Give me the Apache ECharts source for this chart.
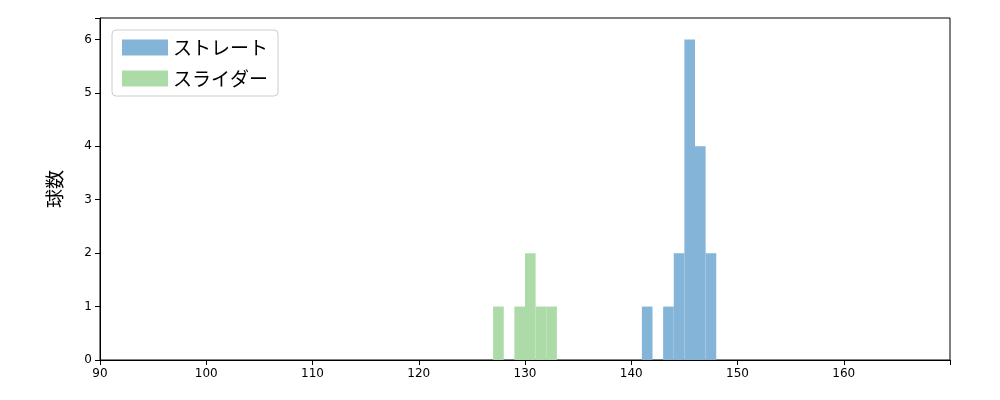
<!DOCTYPE html>
<html>
<head>
<meta charset="utf-8" />
<script src="https://cdn.jsdelivr.net/npm/echarts@6/dist/echarts.min.js"></script>
</head>
<body style="margin:0">
<div id="main" style="width:1000px;height:400px;"></div>
<script>
// histogram bins (left edge, width 1) and counts
var straightBins = [141, 143, 144, 145, 146, 147];
var straightCounts = [1, 1, 2, 6, 4, 2];
var sliderBins = [127, 129, 130, 131, 132];
var sliderCounts = [1, 1, 2, 1, 1];
var xTicks = [90, 100, 110, 120, 130, 140, 150, 160];

function toData(bins, counts) {
    return bins.map(function (b, i) { return [b, b + 1, counts[i]]; });
}

function renderBar(params, api) {
    var p0 = api.coord([api.value(0), api.value(2)]);
    var p1 = api.coord([api.value(1), 0]);
    return {
        type: 'rect',
        shape: { x: p0[0], y: p0[1], width: p1[0] - p0[0], height: p1[1] - p0[1] },
        style: api.style()
    };
}

var myChart = echarts.init(document.getElementById('main'));
var option = {
    animation: false,
    textStyle: { fontFamily: 'DejaVu Sans, Noto Sans CJK JP' },
    grid: { left: 100, right: 50, top: 18, bottom: 40, show: true, borderColor: '#000', borderWidth: 1 },
    legend: {
        left: 112, top: 30, orient: 'vertical',
        itemWidth: 46, itemHeight: 16, itemGap: 12,
        padding: [8, 10, 8, 10],
        borderColor: '#ccc', borderWidth: 1, borderRadius: 4,
        textStyle: { fontSize: 19, color: '#000', fontFamily: 'Noto Sans CJK JP' },
        data: [{ name: 'ストレート', icon: 'rect' }, { name: 'スライダー', icon: 'rect' }]
    },
    xAxis: {
        type: 'value', min: 90, max: 170, interval: 10,
        axisLine: { lineStyle: { color: '#000' } },
        axisTick: { lineStyle: { color: '#000' } },
        axisLabel: { color: '#000', fontSize: 12, formatter: function (v) { return xTicks.indexOf(v) >= 0 ? v : ''; } },
        splitLine: { show: false }
    },
    yAxis: {
        type: 'value', min: 0, max: 6.4, interval: 1,
        name: '球数', nameLocation: 'middle', nameGap: 36, nameRotate: 90,
        nameTextStyle: { fontSize: 19, color: '#000', fontFamily: 'Noto Sans CJK JP' },
        axisLine: { show: true, lineStyle: { color: '#000' } },
        axisTick: { show: true, lineStyle: { color: '#000' } },
        axisLabel: { color: '#000', fontSize: 12, formatter: function (v) { return Number.isInteger(v) ? v : ''; } },
        splitLine: { show: false }
    },
    series: [
        { name: 'ストレート', type: 'custom', renderItem: renderBar, itemStyle: { color: '#84b5d9' },
          encode: { x: [0, 1], y: 2 }, data: toData(straightBins, straightCounts) },
        { name: 'スライダー', type: 'custom', renderItem: renderBar, itemStyle: { color: '#acdba8' },
          encode: { x: [0, 1], y: 2 }, data: toData(sliderBins, sliderCounts) }
    ]
};
myChart.setOption(option);
</script>
</body>
</html>
